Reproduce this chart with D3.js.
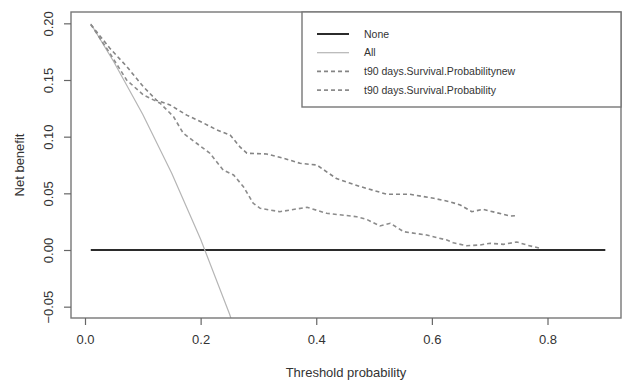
<!DOCTYPE html>
<html>
<head>
<meta charset="utf-8">
<script src="https://cdn.jsdelivr.net/npm/d3@7"></script>
<style>
  body { margin: 0; background: #fff; }
  svg { display: block; font-family: "Liberation Sans", Arial, sans-serif; }
  .axis path, .axis line { stroke: #666; stroke-width: 1.2; }
  .axis text { fill: #333; font-size: 13px; }
</style>
</head>
<body>
<svg id="chart" width="624" height="383"></svg>
<script>
// threshold probabilities and net benefit
var noneX = [0.01, 0.9];
var noneY = [0, 0];

var allX = [0.01, 0.05, 0.10, 0.15, 0.20, 0.25, 0.30];
var allY = [0.1996, 0.1659, 0.1196, 0.0678, 0.0095, -0.0565, -0.132];

var newX = [0.01, 0.043, 0.072, 0.101, 0.124, 0.147, 0.176, 0.205, 0.228, 0.251, 0.268, 0.280,
            0.314, 0.343, 0.372, 0.401, 0.435, 0.476, 0.522, 0.562, 0.603, 0.631, 0.649, 0.669,
            0.689, 0.712, 0.735, 0.747];
var newY = [0.199, 0.178, 0.162, 0.144, 0.132, 0.128, 0.119, 0.112, 0.106, 0.1015, 0.091, 0.0854,
            0.0847, 0.081, 0.0765, 0.075, 0.063, 0.056, 0.0492, 0.0492, 0.0456, 0.0426, 0.0397, 0.0338,
            0.0359, 0.0329, 0.030, 0.0303];

var oldX = [0.01, 0.043, 0.072, 0.101, 0.130, 0.153, 0.170, 0.193, 0.216, 0.239, 0.257, 0.274,
            0.291, 0.303, 0.337, 0.384, 0.418, 0.470, 0.487, 0.510, 0.528, 0.551, 0.591, 0.626,
            0.637, 0.660, 0.683, 0.701, 0.724, 0.747, 0.764, 0.787];
var oldY = [0.199, 0.1736, 0.150, 0.1368, 0.1295, 0.1177, 0.103, 0.0942, 0.0854, 0.0706, 0.0662, 0.0559,
            0.0412, 0.0368, 0.0338, 0.0377, 0.0324, 0.0294, 0.0271, 0.0212, 0.0236, 0.0162, 0.0132, 0.0088,
            0.0064, 0.0038, 0.0044, 0.0059, 0.005, 0.0071, 0.0044, 0.0015];

var xTicks = [0, 0.2, 0.4, 0.6, 0.8];
var yTicks = [-0.05, 0, 0.05, 0.10, 0.15, 0.20];
var legendLabels = ["None", "All", "t90 days.Survival.Probabilitynew", "t90 days.Survival.Probability"];

var box = {left: 71, right: 621, top: 12, bottom: 318};

var svg = d3.select("#chart");

// tick positions measured on the picture, box edges hold the rest
var x = d3.scaleLinear().domain([0, 0.8]).range([85, 547.5]);
var y = d3.scaleLinear().domain([-0.06, 0.21]).range([box.bottom, box.top]);

svg.append("defs").append("clipPath").attr("id", "clip")
  .append("rect")
    .attr("x", box.left).attr("y", box.top)
    .attr("width", box.right - box.left).attr("height", box.bottom - box.top);

var plot = svg.append("g").attr("clip-path", "url(#clip)");

function pairs(xs, ys) {
  return xs.map(function(d, i) { return [d, ys[i]]; });
}

var line = d3.line()
  .x(function(d) { return x(d[0]); })
  .y(function(d) { return y(d[1]); });

var series = [
  {key: legendLabels[0], pts: pairs(noneX, noneY), color: "#2b2b2b", width: 2, dash: null},
  {key: legendLabels[1], pts: pairs(allX, allY), color: "#b5b5b5", width: 1.2, dash: null},
  {key: legendLabels[2], pts: pairs(newX, newY), color: "#858585", width: 1.6, dash: "4,3"},
  {key: legendLabels[3], pts: pairs(oldX, oldY), color: "#8c8c8c", width: 1.6, dash: "4,3"}
];

plot.selectAll(".series")
  .data(series)
  .enter().append("path")
    .attr("class", "series")
    .attr("fill", "none")
    .attr("stroke", function(d) { return d.color; })
    .attr("stroke-width", function(d) { return d.width; })
    .attr("stroke-dasharray", function(d) { return d.dash; })
    .attr("d", function(d) { return line(d.pts); });

// box round the plot
svg.append("rect")
  .attr("x", box.left).attr("y", box.top)
  .attr("width", box.right - box.left).attr("height", box.bottom - box.top)
  .attr("fill", "none").attr("stroke", "#777").attr("stroke-width", 1.4);

// axes
var xAxis = svg.append("g")
  .attr("class", "axis")
  .attr("transform", "translate(0," + box.bottom + ")")
  .call(d3.axisBottom(x).tickValues(xTicks).tickSize(7).tickPadding(10)
    .tickFormat(d3.format(".1f")));
xAxis.select(".domain").remove();

var yAxis = svg.append("g")
  .attr("class", "axis")
  .attr("transform", "translate(" + box.left + ",0)")
  .call(d3.axisLeft(y).tickValues(yTicks).tickSize(7).tickFormat(d3.format(".2f")));
yAxis.select(".domain").remove();
yAxis.selectAll("text")
  .attr("transform", "translate(-23,0) rotate(-90)")
  .attr("x", 0).attr("dy", "0.35em")
  .style("text-anchor", "middle");

svg.append("text")
  .attr("x", (box.left + box.right) / 2).attr("y", 377)
  .attr("text-anchor", "middle")
  .style("font-size", "13px").style("fill", "#333")
  .text("Threshold probability");

svg.append("text")
  .attr("transform", "translate(24," + (box.top + box.bottom) / 2 + ") rotate(-90)")
  .attr("text-anchor", "middle")
  .style("font-size", "13px").style("fill", "#333")
  .text("Net benefit");

// legend
var leg = svg.append("g").attr("transform", "translate(302,12)");
leg.append("rect")
  .attr("width", 319).attr("height", 95)
  .attr("fill", "#fff").attr("stroke", "#777").attr("stroke-width", 1.4);

var rows = leg.selectAll(".row")
  .data(series)
  .enter().append("g")
    .attr("class", "row")
    .attr("transform", function(d, i) { return "translate(0," + (22 + i * 18.7) + ")"; });

rows.append("line")
  .attr("x1", 15).attr("x2", 47)
  .attr("stroke", function(d) { return d.color; })
  .attr("stroke-width", function(d) { return d.width; })
  .attr("stroke-dasharray", function(d) { return d.dash; });

rows.append("text")
  .attr("x", 62).attr("dy", "0.35em")
  .style("font-size", "10.5px").style("fill", "#333")
  .text(function(d) { return d.key; });
</script>
</body>
</html>
